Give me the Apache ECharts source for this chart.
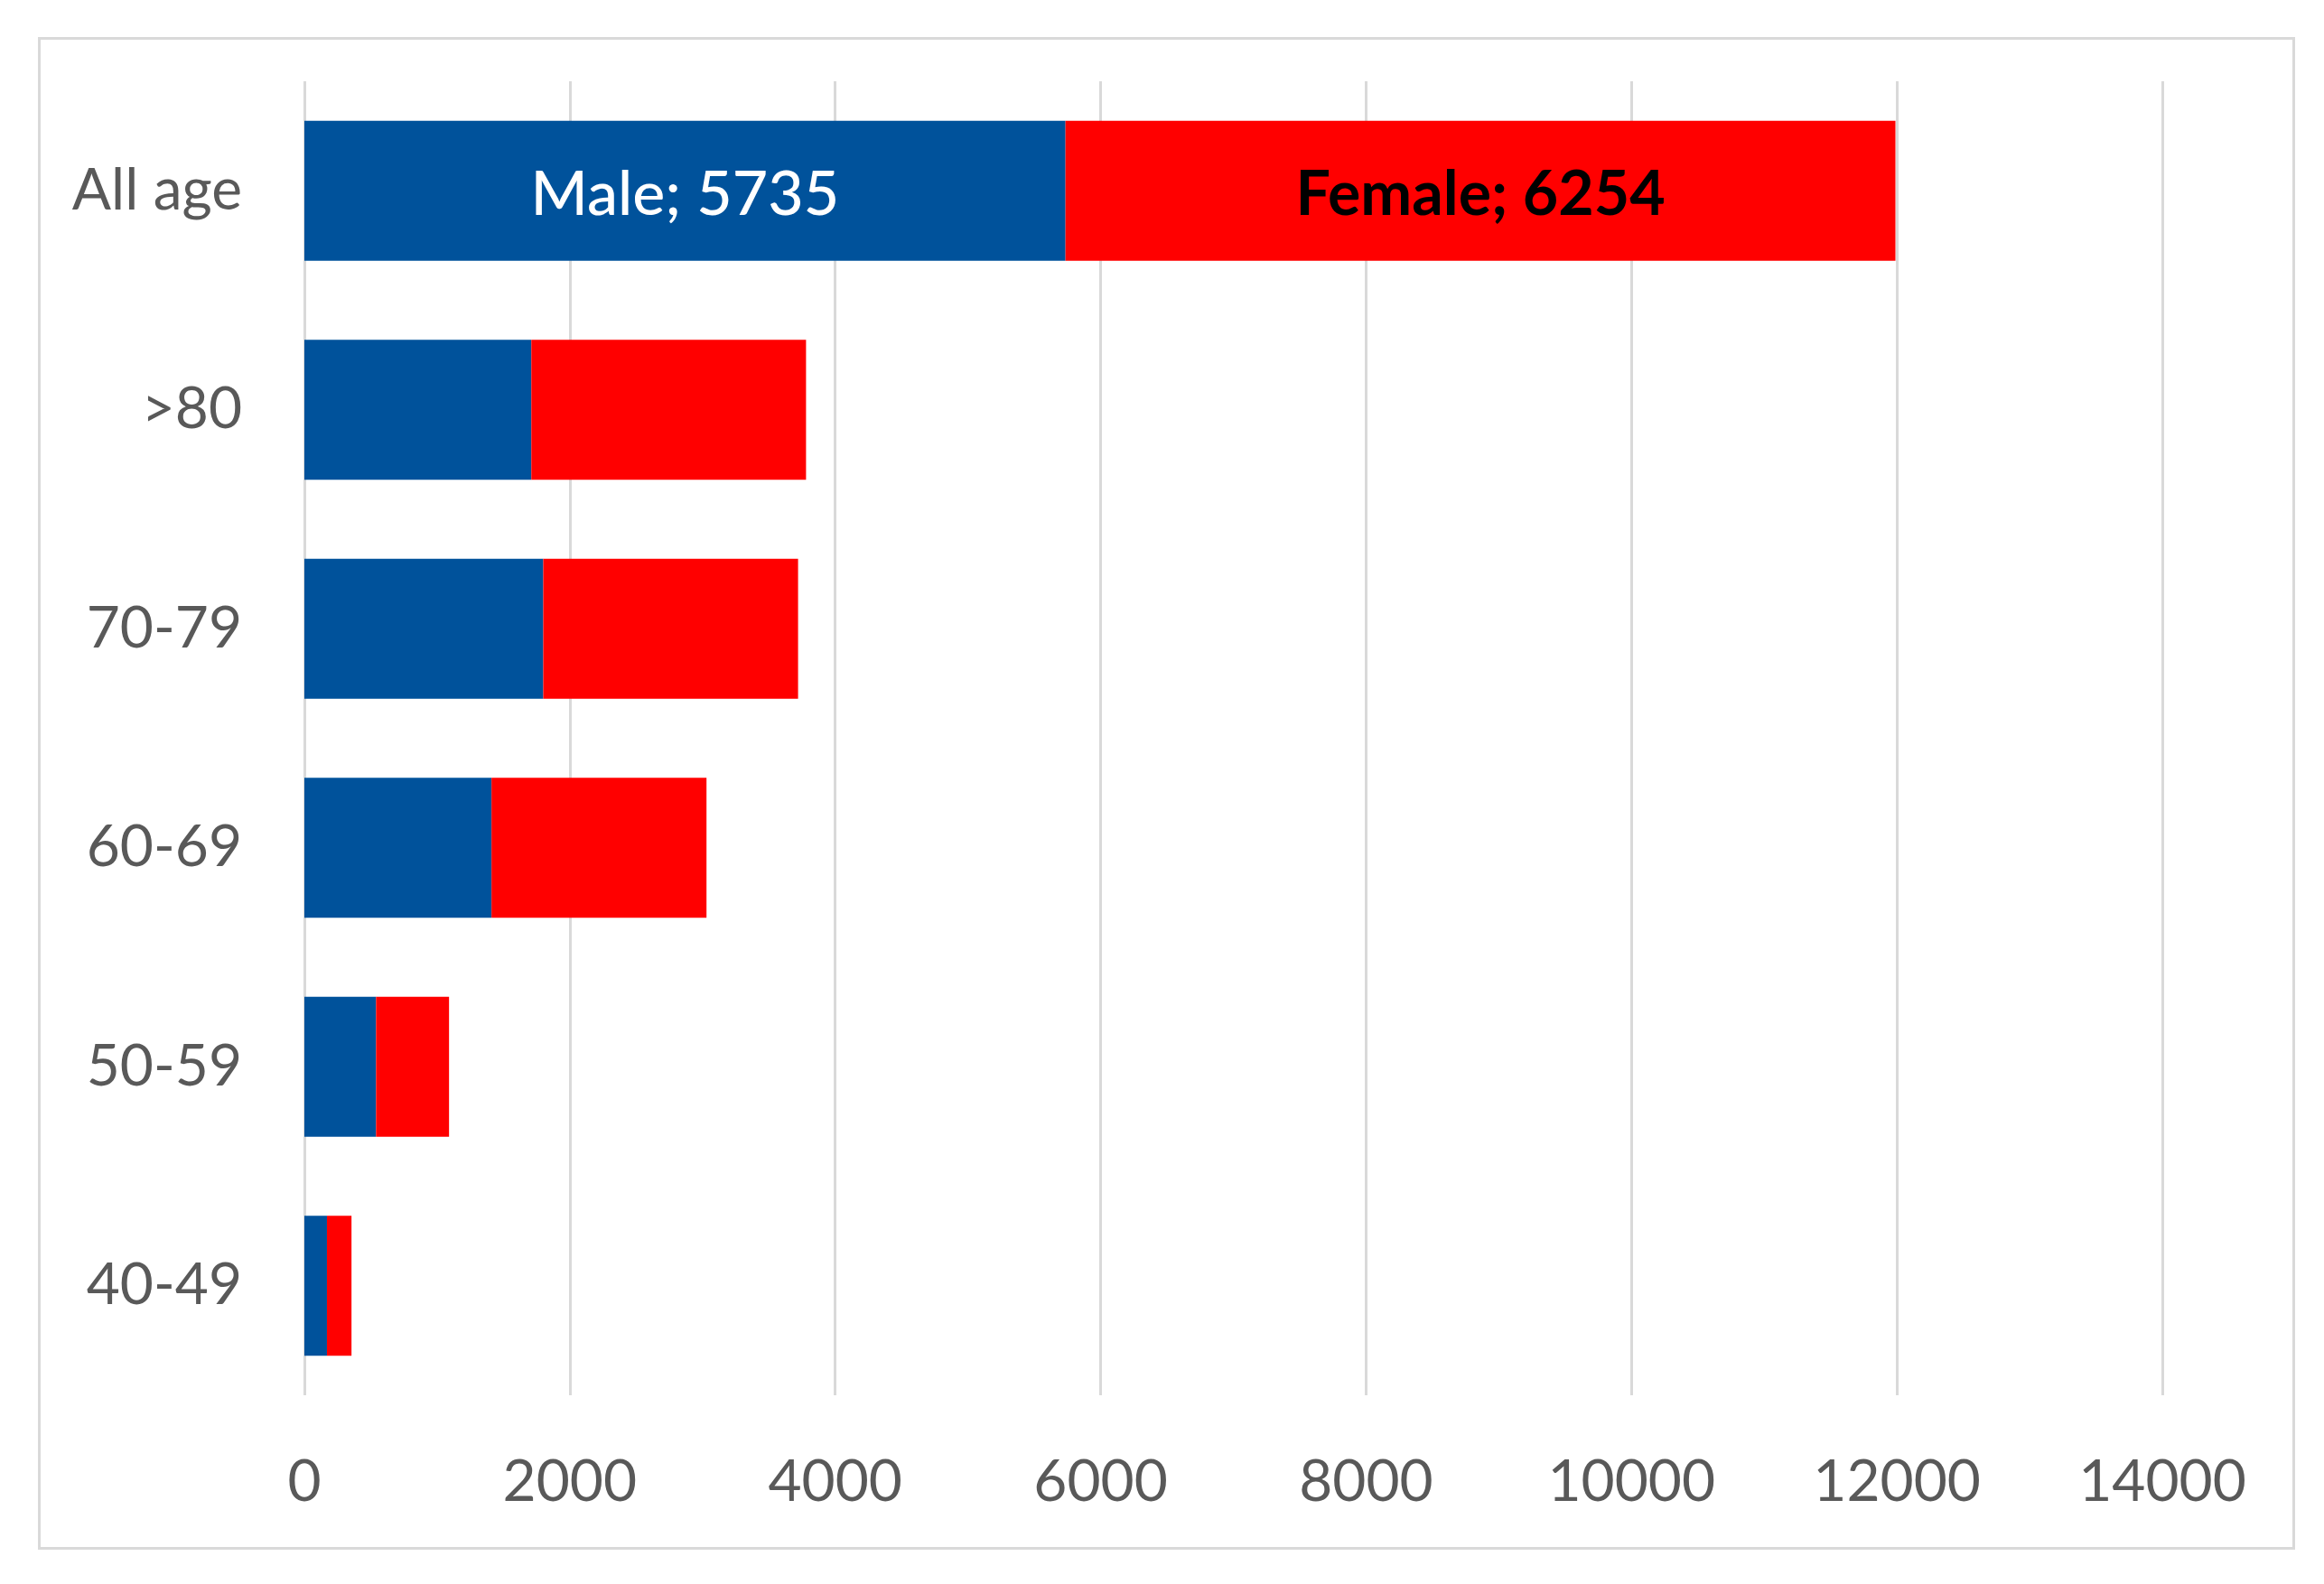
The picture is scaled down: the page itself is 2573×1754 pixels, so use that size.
<!DOCTYPE html>
<html><head><meta charset="utf-8">
<script src="https://cdn.jsdelivr.net/npm/echarts@6/dist/echarts.min.js"></script>
<style>html,body{margin:0;padding:0;background:#fff}#c{width:2573px;height:1754px}</style>
</head><body><div id="c"></div>
<script>
const categories = ['All age', '>80', '70-79', '60-69', '50-59', '40-49'];
const maleValues = [5735, 1710, 1800, 1410, 540, 170];
const femaleValues = [6254, 2070, 1920, 1620, 550, 185];
const seriesNames = ['Male', 'Female'];
const xMin = 0, xMax = 14000, xInterval = 2000;

const FONT = 'Lato';
const chart = echarts.init(document.getElementById('c'), null, {renderer: 'canvas'});

function withLabel(values, labelStyle) {
  return values.map((v, i) => i === 0 ? {value: v, label: Object.assign({show: true}, labelStyle)} : {value: v});
}

chart.setOption({
  animation: false,
  backgroundColor: '#ffffff',
  graphic: [{
    type: 'rect', left: 41, top: 40, silent: true,
    shape: {width: 2496, height: 1672},
    style: {fill: 'none', stroke: '#d9d9d9', lineWidth: 3}
  }],
  grid: {left: 337, right: 179, top: 90, bottom: 209, containLabel: false},
  xAxis: {
    type: 'value', min: xMin, max: xMax, interval: xInterval,
    axisLine: {show: false}, axisTick: {show: false},
    splitLine: {show: true, lineStyle: {color: '#d9d9d9', width: 3}},
    axisLabel: {color: '#595959', fontFamily: FONT, fontSize: 64, margin: 64,
      formatter: v => String(v)}
  },
  yAxis: {
    type: 'category', data: categories, inverse: true,
    axisLine: {show: false}, axisTick: {show: false},
    axisLabel: {color: '#595959', fontFamily: FONT, fontSize: 64, margin: 69}
  },
  series: [
    {
      name: seriesNames[0], type: 'bar', stack: 'total', barCategoryGap: '36%',
      itemStyle: {color: '#00529b'},
      label: {show: false},
      data: withLabel(maleValues, {
        position: 'inside', offset: [0, 5], formatter: '{a}; {c}', color: '#ffffff',
        fontFamily: FONT, fontSize: 68, fontWeight: 500
      })
    },
    {
      name: seriesNames[1], type: 'bar', stack: 'total', barCategoryGap: '36%',
      itemStyle: {color: '#ff0000'},
      label: {show: false},
      data: withLabel(femaleValues, {
        position: 'inside', offset: [0, 5], formatter: '{a}; {c}', color: '#000000',
        fontFamily: FONT, fontSize: 68, fontWeight: 'bold'
      })
    }
  ]
});
</script></body></html>
